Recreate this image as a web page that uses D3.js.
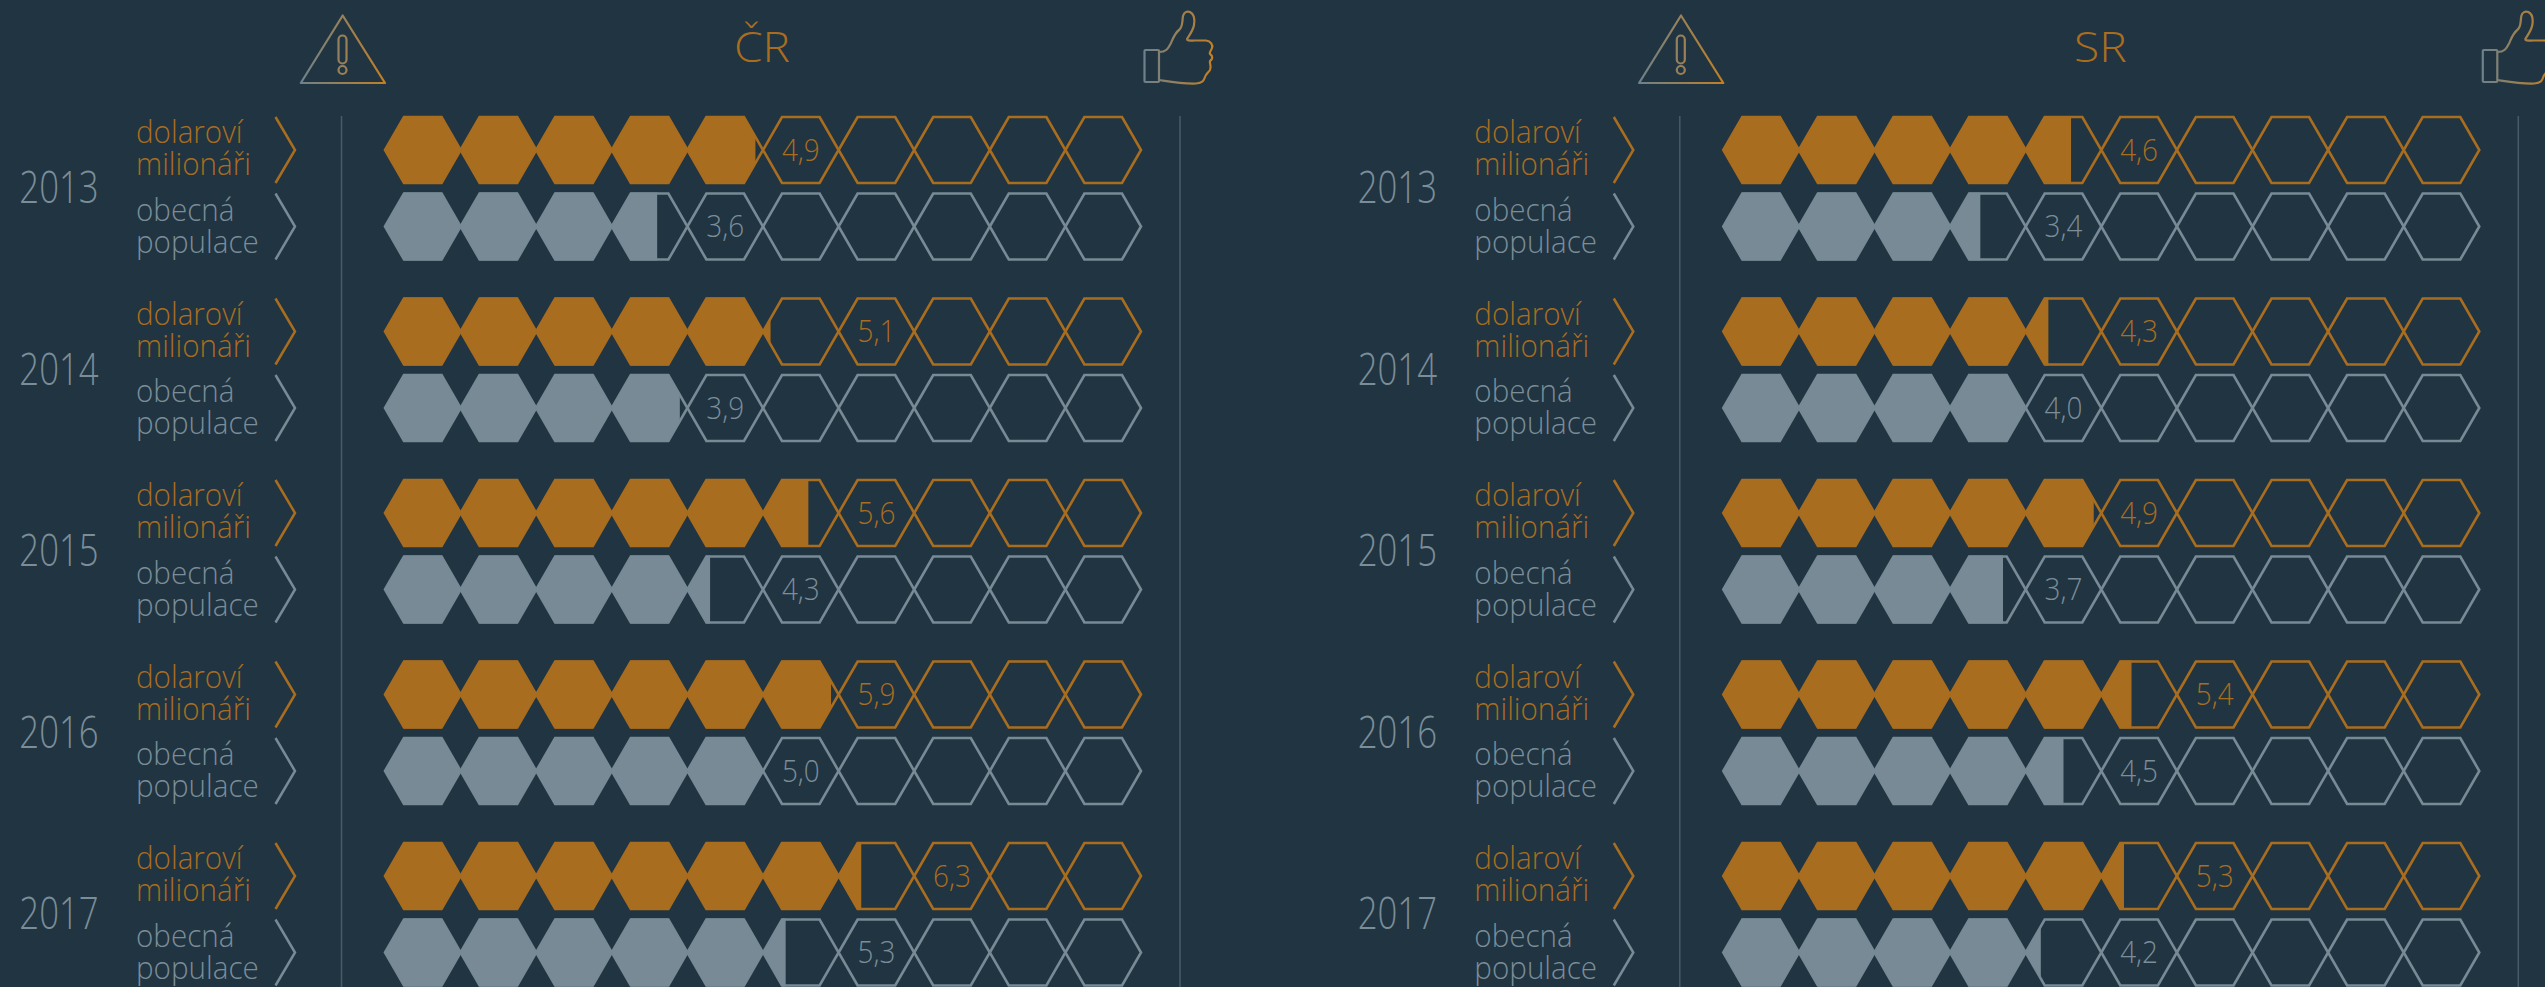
<!DOCTYPE html>
<html><head><meta charset="utf-8">
<script src="https://cdn.jsdelivr.net/npm/d3@7/dist/d3.min.js"></script>
<style>html,body{margin:0;padding:0;background:#213441;overflow:hidden}svg{display:block}
text{font-family:"Open Sans",sans-serif;font-weight:300}</style></head>
<body><svg id="c" width="2545" height="987"></svg>
<script>
const years=[2013,2014,2015,2016,2017];
const panels=["ČR","SR"];
const groupLines=[["dolaroví","milionáři"],["obecná","populace"]];
const crMillionaires=[4.9,5.1,5.6,5.9,6.3];
const crPopulation=[3.6,3.9,4.3,5.0,5.3];
const srMillionaires=[4.6,4.3,4.9,5.4,5.3];
const srPopulation=[3.4,4.0,3.7,4.5,4.2];
const panelSeries=[[crMillionaires,crPopulation],[srMillionaires,srPopulation]];

const W=2545,H=987,ORANGE="#a96d1f",GREY="#778a95",TXTGREY="#7a8d98",RULE="#475b68";
const svg=d3.select("#c");
svg.append("rect").attr("width",W).attr("height",H).attr("fill","#213441");
const defs=svg.append("defs");
function grad(id,x1,x2){
  const g=defs.append("linearGradient").attr("id",id).attr("gradientUnits","userSpaceOnUse")
    .attr("x1",x1).attr("x2",x2).attr("y1",0).attr("y2",0);
  g.append("stop").attr("offset",0).attr("stop-color","#6d818c");
  g.append("stop").attr("offset",1).attr("stop-color","#c47f22");
}
grad("gW",300,386);grad("gT",1144,1213);

const x=d3.scaleLinear().domain([0,10]).range([385,1141]);
const y=d3.scaleLinear().domain([2013,2017]).range([150,876]);
const ROW=76.5,HH=34,INSET=19;
const fmt=v=>d3.format(".1f")(v).replace(".",",");
function hex(i,c,h){
  const a=x(i),b=x(i+1),line=d3.line();
  return line([[a,c],[a+INSET,c-h],[b-INSET,c-h],[b,c],[b-INSET,c+h],[a+INSET,c+h]])+"Z";
}
function label(g,str,px,py,size,color,sx,anchor){
  g.append("text").attr("transform",`translate(${px},${py}) scale(${sx},1)`)
   .attr("text-anchor",anchor||"start").attr("font-size",size).attr("fill",color).text(str);
}
panels.forEach((name,p)=>{
  const g=svg.append("g").attr("transform",`translate(${p*1338.3},0)`);
  label(g,name,762,62,42,ORANGE,1.1,"middle");
  // warning icon
  const w=g.append("g").attr("fill","none").attr("stroke","url(#gW)").attr("stroke-width",2.2).attr("stroke-linejoin","round");
  w.append("path").attr("d","M342.7 15.5L385 83L300.8 83Z");
  w.append("rect").attr("x",338.5).attr("y",35.5).attr("width",8).attr("height",28).attr("rx",4);
  w.append("circle").attr("cx",342.5).attr("cy",70).attr("r",4);
  // thumb icon
  const t=g.append("g").attr("fill","none").attr("stroke","url(#gT)").attr("stroke-width",2.2).attr("stroke-linejoin","round");
  t.append("rect").attr("x",1144.5).attr("y",50).attr("width",14.5).attr("height",32).attr("rx",1);
  t.append("path").attr("d","M1159 52C1166 52 1168 49 1171 43C1174 36 1175 33 1179 30C1183 27 1182 22 1183 16C1184 12 1187 11 1190 12C1194 14 1195 19 1194 25C1193 31 1188 37 1187 39C1187 41 1190 40.500 1195 40.500L1206 40.500C1211 41 1213 45 1212 48C1211 51 1209 52 1210 54C1213 56 1213 59 1210 61C1209 63 1212 66 1210 70C1208 73 1206 74 1205 77C1204 80 1203 83 1196 83.500C1183 84 1172 82 1159 80");
  // rules
  g.selectAll("line.rule").data([x(0)-43.5,x(10)+39]).join("line").attr("class","rule")
    .attr("x1",d=>d).attr("x2",d=>d).attr("y1",116).attr("y2",H).attr("stroke",RULE).attr("stroke-width",1.5);
  years.forEach((yr,k)=>{
    const c0=y(yr);
    label(g,String(yr),59,c0+53,44,TXTGREY,.79,"middle");
    panelSeries[p].forEach((series,s)=>{
      const c=c0+s*ROW,col=s?GREY:ORANGE,txt=s?TXTGREY:ORANGE,v=series[k];
      const off=s?[-6,26]:[-7,25];
      groupLines[s].forEach((l,i)=>label(g,l,136,c+off[i],31,txt,.955));
      g.append("path").attr("d",d3.line()([[275.5,c-33],[295,c],[275.5,c+33]]))
       .attr("fill","none").attr("stroke",col).attr("stroke-width",2.5);
      // outlines
      const cells=d3.range(10);
      g.append("g").selectAll("path").data(cells).join("path").attr("d",i=>hex(i,c,HH-1))
       .attr("fill","none").attr("stroke",col).attr("stroke-width",2.6);
      // filled part clipped at the value
      const id=`clip${p}${k}${s}`;
      defs.append("clipPath").attr("id",id).append("rect")
        .attr("x",x(0)-2).attr("y",c-HH-2).attr("width",x(v)-x(0)+2).attr("height",2*HH+4);
      g.append("g").attr("clip-path",`url(#${id})`).selectAll("path").data(cells).join("path")
       .attr("d",i=>hex(i,c,HH)).attr("fill",col);
      label(g,fmt(v),x(Math.ceil(v)+.5),c+10.5,31,txt,.9,"middle");
    });
  });
});
</script></body></html>
